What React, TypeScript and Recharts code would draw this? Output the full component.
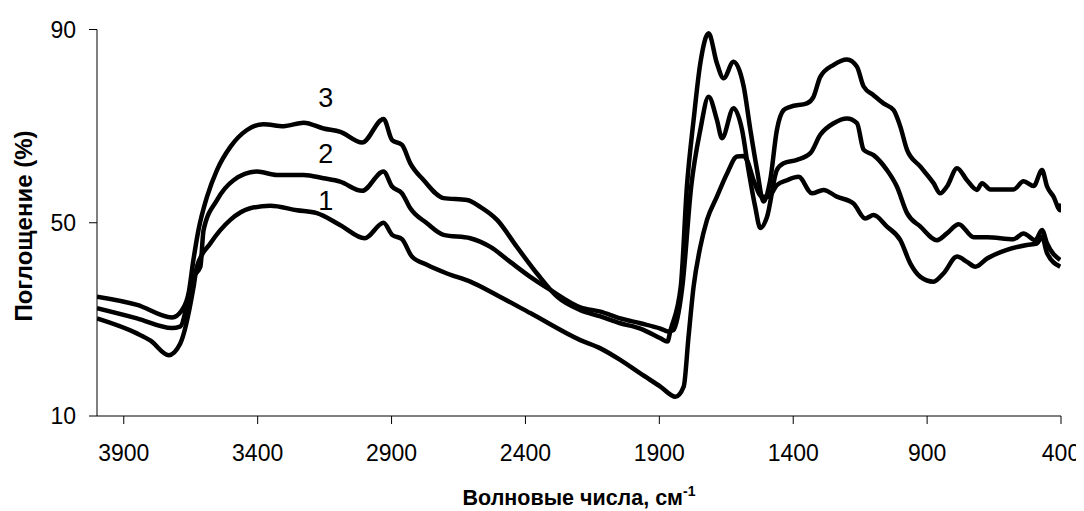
import React from "react";
import { LineChart, Line, XAxis, YAxis, Label, ReferenceDot } from "recharts";

// Wavenumbers (cm-1) and absorption (%) for each spectrum
const wn1 = [4000, 3851, 3800, 3732, 3689, 3640, 3627, 3577, 3502, 3428, 3353, 3253, 3179, 3091, 3000, 2930, 2898, 2861, 2824, 2768, 2693, 2606, 2506, 2382, 2195, 2120, 2046, 1971, 1896, 1840, 1809, 1791, 1772, 1747, 1722, 1685, 1647, 1610, 1585, 1573, 1548, 1517, 1492, 1461, 1423, 1380, 1330, 1287, 1237, 1175, 1131, 1100, 1050, 1000, 963, 925, 876, 839, 788, 751, 720, 676, 602, 527, 490, 471, 452, 403];
const ab1 = [30.2, 27.1, 25.6, 22.6, 25.0, 36.5, 40.9, 45.7, 50.6, 53.0, 53.5, 52.6, 52.0, 49.5, 46.8, 50.0, 47.5, 46.6, 43.0, 41.3, 39.5, 37.8, 35.0, 31.3, 25.7, 24.0, 21.6, 18.8, 16.1, 14.0, 16.1, 26.4, 36.8, 45.0, 50.6, 55.4, 60.2, 63.7, 63.8, 63.0, 58.8, 55.4, 55.4, 57.8, 58.8, 59.5, 56.1, 56.8, 55.4, 54.0, 50.9, 51.6, 49.2, 46.4, 41.6, 38.8, 37.8, 39.5, 43.0, 41.9, 40.9, 42.6, 44.4, 45.4, 45.7, 47.1, 43.7, 40.9];

const wn2 = [4000, 3851, 3720, 3690, 3640, 3614, 3602, 3552, 3490, 3402, 3328, 3228, 3154, 3092, 3010, 2930, 2898, 2861, 2830, 2768, 2706, 2606, 2531, 2457, 2382, 2307, 2195, 2120, 2046, 1971, 1896, 1867, 1847, 1814, 1781, 1747, 1716, 1685, 1666, 1623, 1591, 1567, 1542, 1523, 1498, 1461, 1436, 1386, 1336, 1299, 1249, 1199, 1162, 1137, 1100, 1050, 1013, 975, 925, 863, 826, 782, 726, 676, 577, 540, 496, 471, 452, 403];
const ab2 = [32.3, 30.2, 28.2, 28.5, 38.8, 40.9, 48.5, 54.7, 58.8, 60.6, 59.9, 59.9, 59.2, 58.5, 56.6, 60.6, 57.5, 56.1, 53.0, 49.9, 47.5, 46.8, 45.0, 41.9, 38.8, 36.1, 32.5, 31.6, 30.2, 29.2, 28.1, 27.5, 27.8, 36.8, 57.5, 69.2, 76.1, 71.3, 67.5, 73.7, 69.2, 60.9, 53.3, 48.9, 51.2, 60.9, 62.3, 63.0, 64.4, 68.2, 70.6, 71.6, 70.6, 65.1, 64.0, 60.9, 57.5, 52.0, 49.2, 46.4, 47.8, 49.7, 47.0, 47.0, 46.6, 47.8, 46.4, 48.5, 45.7, 42.3];

const wn3 = [4000, 3850, 3720, 3683, 3658, 3640, 3621, 3589, 3552, 3502, 3440, 3378, 3303, 3228, 3154, 3091, 3010, 2930, 2898, 2861, 2830, 2780, 2706, 2618, 2569, 2506, 2432, 2357, 2282, 2195, 2120, 2046, 1971, 1896, 1870, 1858, 1820, 1797, 1772, 1747, 1716, 1685, 1660, 1623, 1585, 1560, 1535, 1511, 1486, 1461, 1436, 1411, 1349, 1324, 1299, 1249, 1199, 1162, 1137, 1100, 1063, 1025, 1000, 975, 925, 876, 851, 826, 788, 751, 714, 695, 664, 577, 540, 502, 471, 452, 428, 403, 400];
const ab3 = [34.7, 33.0, 30.4, 31.9, 35.4, 42.3, 48.5, 55.4, 60.9, 65.7, 69.2, 70.4, 70.0, 70.7, 69.5, 68.8, 66.6, 71.5, 67.1, 66.1, 62.3, 58.8, 55.1, 54.7, 53.3, 50.6, 45.0, 39.5, 34.7, 31.9, 30.6, 29.2, 28.1, 26.1, 25.4, 27.8, 36.8, 57.5, 71.3, 83.0, 89.2, 83.0, 79.9, 83.3, 78.2, 69.2, 60.9, 54.4, 58.8, 69.2, 73.3, 74.0, 74.7, 76.1, 80.2, 82.7, 83.8, 82.3, 78.2, 76.4, 74.7, 73.3, 69.9, 65.1, 61.6, 58.2, 56.1, 57.5, 61.3, 58.8, 56.8, 58.2, 56.9, 56.9, 58.6, 57.6, 60.9, 57.5, 55.4, 52.6, 54.0];

const xTicks = [3900, 3400, 2900, 2400, 1900, 1400, 900, 400];
const yTicks = [10, 50, 90];

const curveLabels = ["1", "2", "3"];
const curveLabelWn = [3146, 3146, 3146];
const curveLabelAb = [54.5, 64.2, 75.8];

const toPoints = (wn: number[], ab: number[]) => wn.map((x, i) => ({ x, y: ab[i] }));
const series = [toPoints(wn1, ab1), toPoints(wn2, ab2), toPoints(wn3, ab3)];

const FONT = "'Liberation Sans', Arial, sans-serif";

export default function App() {
  return (
    <LineChart
      width={1076}
      height={503}
      margin={{ top: 21.5, right: 23, bottom: 0, left: 0 }}
      style={{ fontFamily: FONT }}
    >
      <XAxis
        dataKey="x"
        type="number"
        domain={[400, 4000]}
        reversed
        ticks={xTicks}
        allowDataOverflow
        height={95}
        tickSize={8}
        tickMargin={21}
        axisLine={{ stroke: "#000", strokeWidth: 1 }}
        tickLine={{ stroke: "#000", strokeWidth: 1 }}
        tick={{ fill: "#000", fontSize: 23, fontFamily: FONT }}
      >
        <Label
          content={(props: any) => {
            const vb = props.viewBox || { x: 89, width: 964 };
            const cx = vb.x + vb.width / 2;
            return (
              <text x={cx} y={497} textAnchor="middle" fontFamily={FONT} fontWeight="bold" fontSize={21.5} fill="#000">
                Волновые числа, см
                <tspan dy={-9} fontSize={14}>-1</tspan>
              </text>
            );
          }}
        />
      </XAxis>
      <YAxis
        type="number"
        domain={[10, 90]}
        ticks={yTicks}
        width={89}
        tickSize={8}
        tickMargin={13}
        axisLine={{ stroke: "#000", strokeWidth: 1 }}
        tickLine={{ stroke: "#000", strokeWidth: 1 }}
        tick={{ fill: "#000", fontSize: 23, fontFamily: FONT }}
      >
        <Label
          content={() => (
            <text
              x={15}
              y={218}
              transform="rotate(-90 15 218)"
              textAnchor="middle"
              dominantBaseline="central"
              fontFamily={FONT}
              fontWeight="bold"
              fontSize={24}
              fill="#000"
            >
              Поглощение (%)
            </text>
          )}
        />
      </YAxis>
      {series.map((d, i) => (
        <Line
          key={i}
          data={d}
          dataKey="y"
          type="monotone"
          stroke="#000"
          strokeWidth={4.5}
          strokeLinejoin="round"
          dot={false}
          activeDot={false}
          isAnimationActive={false}
        />
      ))}
      {curveLabels.map((t, i) => (
        <ReferenceDot
          key={t}
          x={curveLabelWn[i]}
          y={curveLabelAb[i]}
          r={0}
          shape={(p: any) => (
            <text x={p.cx} y={p.cy} textAnchor="middle" dominantBaseline="central" fontFamily={FONT} fontSize={27} fill="#000">
              {t}
            </text>
          )}
        />
      ))}
    </LineChart>
  );
}
